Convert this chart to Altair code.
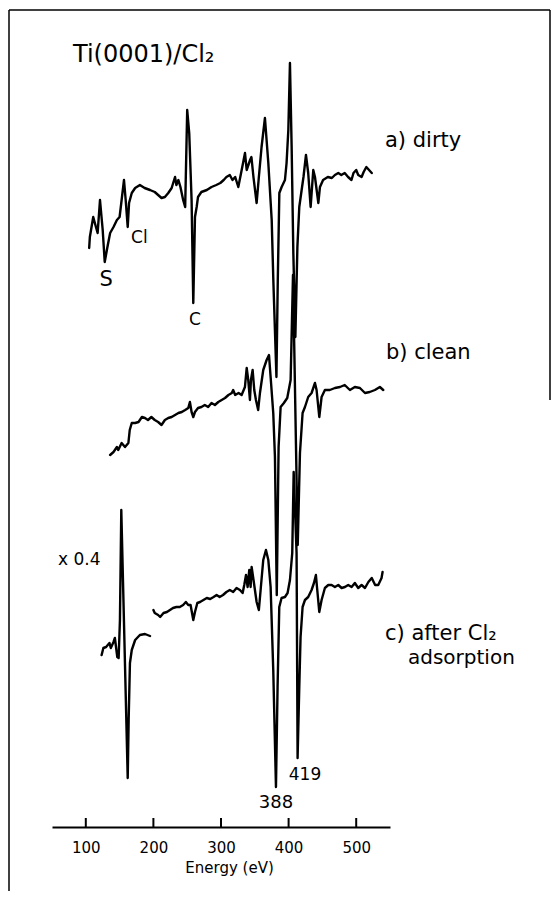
import altair as alt
import pandas as pd

# (energy eV, signal in arbitrary display units)
dirty = [(105,579),(106,590),(111,610),(115,600),(117.5,594),(121,627),(125,597),(128,565),(132,580),
         (136,594),(141,600),(146,607),(150,610),(153,627),(156.5,647),(159,627),(162,600),(164,624),
         (168,634),(173,639),(180,642),(187,639),(195,637),(202,635),(207,632),(212,629),(217,630),
         (222,634),(227,639),(232,650),(234,642),(237,647),(240,640),(244,627),(247,620),(250,717),
         (253,694),(256.5,627),(259,524),(261.5,610),(264,620),(266,630),(271,635),(279,637),(286,640),
         (293,642),(299,644),(304,647),(308,650),(313,652),(317,647),(321,650),(325.6,640),(330,655),
         (335.5,674),(338,657),(343,667),(345,670),(348,650),(352.7,624),(356,650),(360,680),(365,709),
         (370,664),(375,607),(377.4,547),(382,450),(384,547),(386.3,634),(389.7,640),(394.6,647),
         (397,664),(399.6,697),(402,764),(404.5,680),(407,574),(410,490),(413,580),(415.8,620),
         (419.3,637),(422,650),(425.7,672),(429,654),(432.6,620),(436.5,657),(439,650),(444,624),
         (446.4,640),(451,647),(458,650),(464,649),(468.5,652),(473.5,654),(478,652),(483,654),
         (488,650),(493,647),(496,654),(500,657),(503,652),(508,650),(511,655),(515,660),(519,657),
         (523,654)]

clean = [(136,372),(141,375),(146,380),(148,377),(153,384),(158,380),(163,384),(165,397),(168,404),
         (173,404),(178,405),(183,410),(187.5,409),(192,407),(197,410),(202,407),(207,405),(212,402),
         (217,407),(222,409),(227,410),(232,412),(237,414),(242,415),(247,417),(251.6,419),(254,425),
         (256.5,415),(259,410),(261.5,415),(266,419),(271,420),(276,422),(281,420),(286,424),(291,422),
         (296,425),(301,427),(306,429),(311,432),(316,434),(318,437),(321,432),(326,434),(330.5,432),
         (335.4,440),(338,459),(340.3,447),(342.8,427),(344.3,447),(346.8,457),(349.2,437),(351.7,427),
         (355,417),(357.6,434),(362.5,457),(367.5,467),(371,472),(373.4,450),(377.3,414),(379.8,370),
         (382.5,232),(385.2,380),(388.2,420),(393,424),(398,429),(403,447),(406.5,552),(413.5,282),
         (416.8,374),(420.7,414),(424.2,420),(429,430),(434,434),(439,444),(441.4,437),(445.4,410),
         (448.8,430),(453.7,437),(461,437),(468.5,439),(476,440),(483,442),(490.7,437),(498,440),
         (505.5,439),(513,434),(520,435),(527.7,437),(535,440),(540,437)]

after_cl2 = [(200,217),(202,214),(207,212),(210,210),(215,214),(220,215),(224.5,217),(229,219),
             (234,220),(239,220),(244,222),(248,225),(251.6,222),(255,222),(259,207),(261.5,215),
             (265,224),(269,225),(274,227),(279,229),(284,228),(289,230),(293.5,232),(298,230),
             (303,232),(308,235),(313,237),(318,235),(323,239),(328,237),(332,234),(334.4,242),
             (337,252),(339.4,240),(341.8,257),(343.8,240),(345.3,260),(347.7,249),(350.2,237),
             (352.7,225),(356,217),(359,240),(362.5,267),(366.5,277),(370,267),(373.4,240),
             (377.3,157),(381.3,40),(383.7,140),(386.2,220),(389.6,229),(394.6,230),(398.5,234),
             (402,247),(405.4,274),(407.5,355),(411.8,274),(413.3,69),(415.8,140),(417.7,190),
             (420.7,220),(424.2,227),(429,230),(434,237),(437.5,244),(440.4,252),(442.4,237),
             (445.4,215),(448.8,227),(453.7,239),(458.7,242),(463.6,242),(468.5,240),(473.5,242),
             (478.4,239),(483.3,240),(488.2,242),(493.2,240),(498,244),(503,239),(508,242),(513,239),
             (518,245),(523,249),(528,242),(532.6,242),(537.5,249),(539,255)]

after_cl2_x04 = [(123.4,172),(126,179),(130,180),(135,184),(137,179),(141,185),(143,189),(146.6,170),
                 (148.6,169),(150.5,207),(152.5,317),(162,49),(163.4,107),(165.3,164),(168,177),
                 (173,187),(180,192),(187.5,193),(195,191)]

tick_energies = [100, 200, 300, 400, 500]

left_labels = [("Ti(0001)/Cl₂", 81, 765, 24),
               ("a) dirty", 542.6, 680, 21), ("b) clean", 544, 468, 21),
               ("c) after  Cl₂", 542.6, 187, 21),
               ("adsorption", 576.6, 163, 20), ("Cl", 167, 584, 17), ("x 0.4", 59, 262, 17)]
center_labels = [("S", 130, 541, 21), ("C", 261.5, 502, 17), ("419", 424.3, 47, 17), ("388", 381.4, 19, 18)]

rows = []
for name, pts in [("a", dirty), ("b", clean), ("c", after_cl2), ("c_x04", after_cl2_x04)]:
    for e, v in pts:
        rows.append({"series": name, "energy": e, "signal": v})
df = pd.DataFrame(rows)

ticks_df = pd.DataFrame({"energy": tick_energies, "signal": [0] * 5, "signal2": [9] * 5})
left_df = pd.DataFrame(left_labels, columns=["text", "energy", "signal", "size"])
center_df = pd.DataFrame(center_labels, columns=["text", "energy", "signal", "size"])

FONT = "DejaVu Sans"
x_scale = alt.Scale(domain=[50, 550], nice=False, zero=False)
y_scale = alt.Scale(domain=[0, 817], nice=False, zero=False)
x_axis = alt.Axis(title="Energy (eV)", values=tick_energies, ticks=False, grid=False,
                  domainColor="black", domainWidth=2, labelFont=FONT, labelFontSize=15,
                  labelColor="black", labelPadding=25, labelBaseline="alphabetic", labelFlush=False,
                  titleFont=FONT, titleFontSize=15, titleFontWeight="normal", titleColor="black",
                  titleBaseline="alphabetic", titleX=177, titleY=45, format="d")
x_enc = alt.X("energy:Q", scale=x_scale, axis=x_axis)
y_enc = alt.Y("signal:Q", scale=y_scale, axis=None)

lines = alt.Chart(df).mark_line(color="black", strokeWidth=2.4, strokeJoin="round", strokeCap="round").encode(
    x=x_enc, y=y_enc, detail="series:N", order="energy:Q")

ticks = alt.Chart(ticks_df).mark_rule(color="black", strokeWidth=2).encode(
    x=x_enc, y=y_enc, y2="signal2:Q")

texts_left = alt.Chart(left_df).mark_text(align="left", baseline="alphabetic", font=FONT, color="black").encode(
    x=x_enc, y=y_enc, text="text:N", size=alt.Size("size:Q", scale=None))
texts_center = alt.Chart(center_df).mark_text(align="center", baseline="alphabetic", font=FONT, color="black").encode(
    x=x_enc, y=y_enc, text="text:N", size=alt.Size("size:Q", scale=None))

frame_data = alt.Data(values=[{"k": 1}])
frame_top = alt.Chart(frame_data).mark_rule(color="black", strokeWidth=1.5).encode(
    x=alt.value(-43), x2=alt.value(498), y=alt.value(0))
frame_left = alt.Chart(frame_data).mark_rule(color="black", strokeWidth=1.5).encode(
    x=alt.value(-43), y=alt.value(0), y2=alt.value(889))
frame_right = alt.Chart(frame_data).mark_rule(color="black", strokeWidth=1.5).encode(
    x=alt.value(498), y=alt.value(0), y2=alt.value(390))

chart = alt.layer(lines, ticks, texts_left, texts_center, frame_top, frame_left, frame_right).properties(
    width=338, height=817,
    background="white",
    autosize=alt.AutoSizeParams(type="none"),
    padding={"left": 44, "top": 2, "right": 161, "bottom": 64},
).configure_view(stroke="transparent", strokeWidth=0)

chart.save("out.html", embed_options={"renderer": "svg", "actions": False})
